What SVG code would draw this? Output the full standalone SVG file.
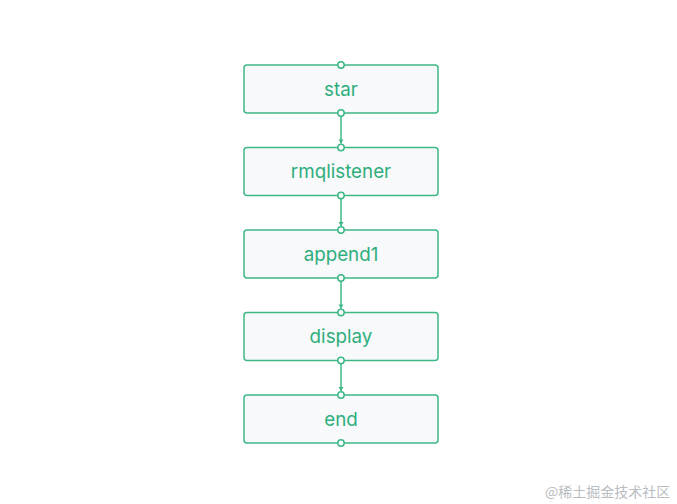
<svg xmlns="http://www.w3.org/2000/svg" width="677" height="504" viewBox="0 0 677 504">
<style>
.box{fill:#f7f9fa;stroke:#3db885;stroke-width:1.5}
.lbl{font-family:"Inter","Liberation Sans",sans-serif;font-size:18.8px;fill:#2fae7c;text-anchor:middle;dominant-baseline:central}
.port{fill:#fff;stroke:#3db885;stroke-width:1.5}
.edge{stroke:#3db885;stroke-width:1.5;fill:none}
.wm{font-family:"Noto Sans CJK SC","Liberation Sans",sans-serif;font-size:14px;fill:#b9bcc1}
</style>
<defs>
<marker id="ah" markerWidth="6" markerHeight="6" refX="5" refY="3" orient="auto" markerUnits="userSpaceOnUse" viewBox="0 0 6 6">
<path d="M1,0.5 L5,3 L1,5.5 Z" fill="#3db885"/>
</marker>
</defs>
<rect width="677" height="504" fill="#fff"/>
<g id="connectors">
<line class="edge" x1="341" y1="113" x2="341" y2="143.5" marker-end="url(#ah)"/>
<line class="edge" x1="341" y1="195.5" x2="341" y2="226" marker-end="url(#ah)"/>
<line class="edge" x1="341" y1="278" x2="341" y2="308.5" marker-end="url(#ah)"/>
<line class="edge" x1="341" y1="360.5" x2="341" y2="391" marker-end="url(#ah)"/>
</g>
<g id="star">
<rect class="box" x="244" y="65" width="194" height="48" rx="3"/>
<text class="lbl" x="341" y="89">star</text>
<circle class="port" cx="341" cy="65" r="3.2"/>
<circle class="port" cx="341" cy="113" r="3.2"/>
</g>
<g id="rmqlistener">
<rect class="box" x="244" y="147.5" width="194" height="48" rx="3"/>
<text class="lbl" x="341" y="171.5">rmqlistener</text>
<circle class="port" cx="341" cy="147.5" r="3.2"/>
<circle class="port" cx="341" cy="195.5" r="3.2"/>
</g>
<g id="append1">
<rect class="box" x="244" y="230" width="194" height="48" rx="3"/>
<text class="lbl" x="341" y="254">append1</text>
<circle class="port" cx="341" cy="230" r="3.2"/>
<circle class="port" cx="341" cy="278" r="3.2"/>
</g>
<g id="display">
<rect class="box" x="244" y="312.5" width="194" height="48" rx="3"/>
<text class="lbl" x="341" y="336.5">display</text>
<circle class="port" cx="341" cy="312.5" r="3.2"/>
<circle class="port" cx="341" cy="360.5" r="3.2"/>
</g>
<g id="end">
<rect class="box" x="244" y="395" width="194" height="48" rx="3"/>
<text class="lbl" x="341" y="419">end</text>
<circle class="port" cx="341" cy="395" r="3.2"/>
<circle class="port" cx="341" cy="443" r="3.2"/>
</g>
<text class="wm" x="545" y="497">@稀土掘金技术社区</text>
</svg>
